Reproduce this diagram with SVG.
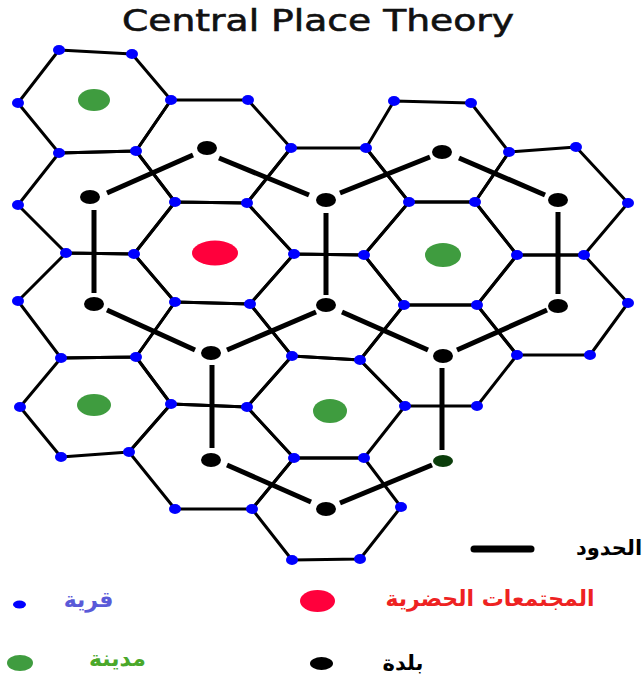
<svg xmlns="http://www.w3.org/2000/svg" width="643" height="681" viewBox="0 0 643 681">
<style>
.hex{fill:none;stroke:#000;stroke-width:3;stroke-linejoin:round}
.b{stroke:#000;stroke-width:5;stroke-linecap:butt}
.v{fill:#0000ff}
.t{fill:#000}
.ar{font-family:"DejaVu Sans",sans-serif;font-weight:bold;text-anchor:middle}
</style>
<rect width="643" height="681" fill="#fff"/>
<text x="318" y="31" font-family="DejaVu Sans, sans-serif" font-size="30" textLength="392" lengthAdjust="spacingAndGlyphs" text-anchor="middle" fill="#111" stroke="#111" stroke-width="0.6">Central Place Theory</text>
<g id="hexes">
<polygon id="h00" class="hex" points="18,103 59,50 132,54 171,100 136,151 59,153"/>
<polygon id="h01" class="hex" points="18,205 59,153 136,151 175,202 134,254 66,253"/>
<polygon id="h02" class="hex" points="18,301 66,253 134,254 175,302 136,357 61,358"/>
<polygon id="h03" class="hex" points="20,407 61,358 136,357 171,404 129,452 61,457"/>
<polygon id="h10" class="hex" points="136,151 171,100 248,100 291,148 247,203 175,202"/>
<polygon id="h11" class="hex" points="134,254 175,202 247,203 294,254 250,304 175,302"/>
<polygon id="h12" class="hex" points="136,357 175,302 250,304 292,356 247,407 171,404"/>
<polygon id="h13" class="hex" points="129,452 171,404 247,407 294,458 252,509 175,509"/>
<polygon id="h21" class="hex" points="247,203 291,148 366,148 409,202 364,255 294,254"/>
<polygon id="h22" class="hex" points="250,304 294,254 364,255 404,305 360,360 292,356"/>
<polygon id="h23" class="hex" points="247,407 292,356 360,360 405,406 364,458 294,458"/>
<polygon id="h24" class="hex" points="252,509 294,458 364,458 401,507 360,559 292,560"/>
<polygon id="h30" class="hex" points="366,148 394,101 471,103 509,152 475,202 409,202"/>
<polygon id="h31" class="hex" points="364,255 409,202 475,202 517,255 477,305 404,305"/>
<polygon id="h32" class="hex" points="360,360 404,305 477,305 517,355 477,406 405,406"/>
<polygon id="h41" class="hex" points="475,202 509,152 576,147 628,203 584,255 517,255"/>
<polygon id="h42" class="hex" points="477,305 517,255 584,255 628,303 590,355 517,355"/>
</g>
<g id="connectors">
<line class="b" x1="107" y1="193" x2="193" y2="155"/>
<line class="b" x1="219" y1="158" x2="309" y2="195"/>
<line class="b" x1="340" y1="193" x2="430" y2="157"/>
<line class="b" x1="459" y1="158" x2="545" y2="195"/>
<line class="b" x1="94" y1="210" x2="94" y2="293"/>
<line class="b" x1="326" y1="213" x2="326" y2="295"/>
<line class="b" x1="558" y1="212" x2="558" y2="294"/>
<line class="b" x1="107" y1="310" x2="195" y2="350"/>
<line class="b" x1="227" y1="350" x2="316" y2="312"/>
<line class="b" x1="342" y1="312" x2="428" y2="350"/>
<line class="b" x1="457" y1="350" x2="547" y2="310"/>
<line class="b" x1="212" y1="365" x2="212" y2="448"/>
<line class="b" x1="442" y1="368" x2="442" y2="450"/>
<line class="b" x1="227" y1="465" x2="311" y2="502"/>
<line class="b" x1="340" y1="503" x2="432" y2="465"/>
</g>
<g id="villages" class="v">
<ellipse cx="59" cy="50" rx="6" ry="5"/><ellipse cx="132" cy="54" rx="6" ry="5"/>
<ellipse cx="18" cy="103" rx="6" ry="5"/><ellipse cx="171" cy="100" rx="6" ry="5"/>
<ellipse cx="248" cy="100" rx="6" ry="5"/><ellipse cx="59" cy="153" rx="6" ry="5"/>
<ellipse cx="136" cy="151" rx="6" ry="5"/><ellipse cx="291" cy="148" rx="6" ry="5"/>
<ellipse cx="366" cy="148" rx="6" ry="5"/><ellipse cx="394" cy="101" rx="6" ry="5"/>
<ellipse cx="471" cy="103" rx="6" ry="5"/><ellipse cx="509" cy="152" rx="6" ry="5"/>
<ellipse cx="576" cy="147" rx="6" ry="5"/><ellipse cx="18" cy="205" rx="6" ry="5"/>
<ellipse cx="175" cy="202" rx="6" ry="5"/><ellipse cx="247" cy="203" rx="6" ry="5"/>
<ellipse cx="409" cy="202" rx="6" ry="5"/><ellipse cx="475" cy="202" rx="6" ry="5"/>
<ellipse cx="628" cy="203" rx="6" ry="5"/><ellipse cx="66" cy="253" rx="6" ry="5"/>
<ellipse cx="134" cy="254" rx="6" ry="5"/><ellipse cx="294" cy="254" rx="6" ry="5"/>
<ellipse cx="364" cy="255" rx="6" ry="5"/><ellipse cx="517" cy="255" rx="6" ry="5"/>
<ellipse cx="584" cy="255" rx="6" ry="5"/><ellipse cx="18" cy="301" rx="6" ry="5"/>
<ellipse cx="175" cy="302" rx="6" ry="5"/><ellipse cx="250" cy="304" rx="6" ry="5"/>
<ellipse cx="404" cy="305" rx="6" ry="5"/><ellipse cx="477" cy="305" rx="6" ry="5"/>
<ellipse cx="628" cy="303" rx="6" ry="5"/><ellipse cx="61" cy="358" rx="6" ry="5"/>
<ellipse cx="136" cy="357" rx="6" ry="5"/><ellipse cx="292" cy="356" rx="6" ry="5"/>
<ellipse cx="360" cy="360" rx="6" ry="5"/><ellipse cx="517" cy="355" rx="6" ry="5"/>
<ellipse cx="590" cy="355" rx="6" ry="5"/><ellipse cx="20" cy="407" rx="6" ry="5"/>
<ellipse cx="171" cy="404" rx="6" ry="5"/><ellipse cx="247" cy="407" rx="6" ry="5"/>
<ellipse cx="405" cy="406" rx="6" ry="5"/><ellipse cx="477" cy="406" rx="6" ry="5"/>
<ellipse cx="61" cy="457" rx="6" ry="5"/><ellipse cx="129" cy="452" rx="6" ry="5"/>
<ellipse cx="294" cy="458" rx="6" ry="5"/><ellipse cx="364" cy="458" rx="6" ry="5"/>
<ellipse cx="175" cy="509" rx="6" ry="5"/><ellipse cx="252" cy="509" rx="6" ry="5"/>
<ellipse cx="401" cy="507" rx="6" ry="5"/><ellipse cx="292" cy="560" rx="6" ry="5"/>
<ellipse cx="360" cy="559" rx="6" ry="5"/>
</g>
<g id="towns" class="t">
<ellipse cx="90" cy="197" rx="10" ry="7"/>
<ellipse cx="207" cy="148" rx="10" ry="7"/>
<ellipse cx="326" cy="200" rx="10" ry="7"/>
<ellipse cx="442" cy="152" rx="10" ry="7"/>
<ellipse cx="558" cy="200" rx="10" ry="7"/>
<ellipse cx="94" cy="304" rx="10" ry="7"/>
<ellipse cx="326" cy="305" rx="10" ry="7"/>
<ellipse cx="558" cy="306" rx="10" ry="7"/>
<ellipse cx="211" cy="353" rx="10" ry="7"/>
<ellipse cx="443" cy="356" rx="10" ry="7"/>
<ellipse cx="211" cy="460" rx="10" ry="7"/>
<ellipse cx="443" cy="461" rx="10" ry="6" fill="#0b3d0b"/>
<ellipse cx="326" cy="509" rx="10" ry="7"/>
</g>
<g id="cities" fill="#3f9c3f">
<ellipse cx="94" cy="100" rx="16" ry="11"/>
<ellipse cx="443" cy="255" rx="18" ry="12"/>
<ellipse cx="94" cy="405" rx="17" ry="11"/>
<ellipse cx="330" cy="411" rx="17" ry="12"/>
</g>
<g id="metropolis">
<ellipse cx="215" cy="253" rx="23" ry="12.5" fill="#ff003c"/>
</g>
<g id="legend">
<line x1="474" y1="549" x2="531" y2="549" stroke="#000" stroke-width="7" stroke-linecap="round"/>
<text class="ar" x="609" y="555" font-size="21" fill="#000">الحدود</text>
<ellipse cx="19.5" cy="604.5" rx="6.5" ry="4" fill="#0000ff"/>
<text class="ar" x="88.5" y="607" font-size="22" fill="#5a5ad8">قرية</text>
<ellipse cx="317.5" cy="601" rx="17.5" ry="11" fill="#ff003c"/>
<text class="ar" x="490" y="606" font-size="22" fill="#ee2222">المجتمعات الحضرية</text>
<ellipse cx="20" cy="663" rx="13" ry="8" fill="#3f9c3f"/>
<text class="ar" x="117.5" y="666" font-size="22" fill="#4aa82a">مدينة</text>
<ellipse cx="321.5" cy="663.5" rx="11.5" ry="6.5" fill="#000"/>
<text class="ar" x="403" y="670" font-size="21" fill="#000">بلدة</text>
</g>
</svg>
